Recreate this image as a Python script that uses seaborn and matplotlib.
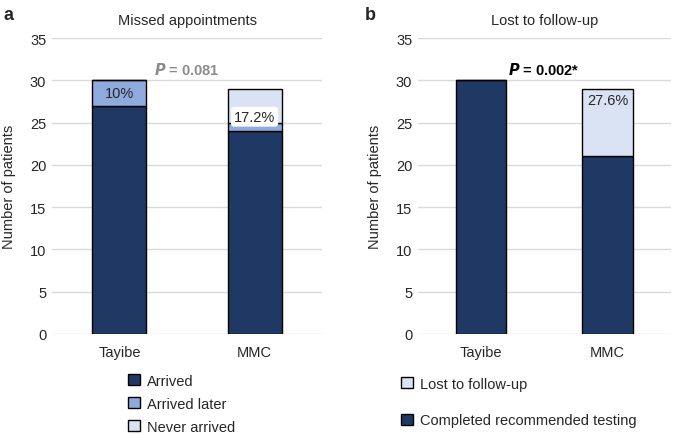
import numpy as np
import matplotlib
matplotlib.use('Agg')
import matplotlib.pyplot as plt
import seaborn as sns
from matplotlib.patches import Patch

sns.set_style('white')
plt.rcParams['font.family'] = ['Liberation Sans', 'DejaVu Sans']

# data
sites = ['Tayibe', 'MMC']
arrived = [27, 24]
arrived_later = [3, 1]
never_arrived = [0, 4]
completed = [30, 21]
lost = [0, 8]
labels_a = ['10%', '17.2%']
labels_b = ['27.6%']

navy = '#203864'
mid = '#8faadc'
light = '#dae3f3'
grid_col = '#d9d9d9'


def style_axis(ax, title):
    ax.set_ylim(0, 35)
    ax.set_xlim(-0.5, 1.5)
    ax.set_yticks(range(0, 36, 5))
    ax.yaxis.grid(True, color=grid_col, lw=1)
    ax.set_axisbelow(True)
    for s in ax.spines.values():
        s.set_visible(False)
    ax.tick_params(axis='y', length=0, labelsize=10.5, pad=4)
    ax.tick_params(axis='x', length=0, labelsize=10.5, pad=8)
    ax.set_ylabel('Number of patients', fontsize=10.5, labelpad=10)
    ax.set_xlabel('')
    ax.set_title(title, fontsize=10.5, pad=10)


fig = plt.figure(figsize=(6.74, 4.35), dpi=100)
ax1 = fig.add_axes([0.077, 0.230, 0.401, 0.680])
ax2 = fig.add_axes([0.620, 0.230, 0.375, 0.680])

# panel a
sns.barplot(x=sites, y=arrived, color=navy, edgecolor='black', linewidth=1,
            width=0.4, ax=ax1, saturation=1)
sns.barplot(x=sites, y=arrived_later, bottom=arrived, color=mid, edgecolor='black',
            linewidth=1, width=0.4, ax=ax1, saturation=1)
bottom2 = np.array(arrived) + np.array(arrived_later)
sns.barplot(x=sites, y=never_arrived, bottom=bottom2, color=light, edgecolor='black',
            linewidth=1, width=0.4, ax=ax1, saturation=1)
style_axis(ax1, 'Missed appointments')
ax1.text(0, 28.5, labels_a[0], ha='center', va='center', fontsize=10.5)
ax1.text(1, 25.7, labels_a[1], ha='center', va='center', fontsize=10.5,
         bbox=dict(boxstyle='round,pad=0.2', fc='white', ec='none'))
ax1.text(0.5, 31.4, r'$\bfit{P}$ = 0.081', ha='center', va='center', fontsize=10.5,
         color='#8c8c8c', fontweight='bold')
ax1.legend(handles=[Patch(fc=navy, ec='black', label='Arrived'),
                    Patch(fc=mid, ec='black', label='Arrived later'),
                    Patch(fc=light, ec='black', label='Never arrived')],
           loc='upper left', bbox_to_anchor=(0.26, -0.115), frameon=False,
           fontsize=10.5, handlelength=0.8, handleheight=0.8,
           handletextpad=0.5, labelspacing=0.62, borderaxespad=0)

# panel b
sns.barplot(x=sites, y=completed, color=navy, edgecolor='black', linewidth=1,
            width=0.4, ax=ax2, saturation=1)
sns.barplot(x=sites, y=lost, bottom=completed, color=light, edgecolor='black',
            linewidth=1, width=0.4, ax=ax2, saturation=1)
style_axis(ax2, 'Lost to follow-up')
ax2.text(1, 27.7, labels_b[0], ha='center', va='center', fontsize=10.5)
ax2.text(0.5, 31.4, r'$\bfit{P}$ = 0.002*', ha='center', va='center', fontsize=10.5,
         color='black', fontweight='bold')
ax2.legend(handles=[Patch(fc=light, ec='black', label='Lost to follow-up'),
                    Patch(fc=navy, ec='black', label='Completed recommended testing')],
           loc='upper left', bbox_to_anchor=(-0.09, -0.125), frameon=False,
           fontsize=10.5, handlelength=0.8, handleheight=0.8,
           handletextpad=0.5, labelspacing=1.55, borderaxespad=0)

fig.text(0.005, 0.985, 'a', fontsize=13, fontweight='bold', va='top')
fig.text(0.542, 0.985, 'b', fontsize=13, fontweight='bold', va='top')

fig.savefig('out.png', dpi=100)
